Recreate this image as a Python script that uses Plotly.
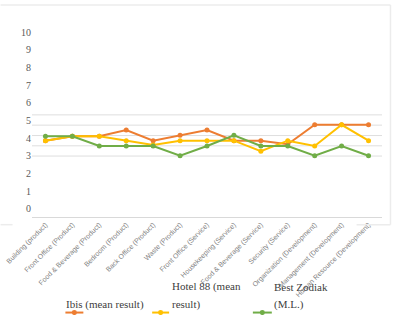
import plotly.graph_objects as go

categories = ["Building (product)", "Front Office (Product)", "Food & Beverage (Product)",
              "Bedroom (Product)", "Back Office (Product)", "Waste (Product)",
              "Front Office (Service)", "Housekeeping (Service)", "Food & Beverage (Service)",
              "Security (Service)", "Organization (Development)", "Management (Development)",
              "Human Resource (Development)"]
ibis = [3.85, 4.1, 4.1, 4.45, 3.85, 4.15, 4.45, 3.85, 3.85, 3.65, 4.75, 4.75, 4.75]
hotel88 = [3.85, 4.1, 4.1, 3.85, 3.6, 3.85, 3.85, 3.85, 3.25, 3.85, 3.55, 4.75, 3.85]
zodiak = [4.1, 4.1, 3.55, 3.55, 3.55, 3.0, 3.55, 4.15, 3.55, 3.55, 3.0, 3.55, 3.0]
y_ticks = list(range(0, 11))
grid_vals = [2.98, 3.56, 4.14, 4.73, 5.31]

series = [("Ibis (mean result)", ibis, "#ED7D31"),
          ("Hotel 88 (mean result)", hotel88, "#FFC000"),
          ("Best Zodiak (M.L.)", zodiak, "#70AD47")]

fig = go.Figure()
for name, vals, col in series:
    fig.add_trace(go.Scatter(x=categories, y=vals, name=name, mode="lines+markers",
                             line=dict(color=col, width=2),
                             marker=dict(color=col, size=5), showlegend=False,
                             cliponaxis=False))

W, H = 397, 315
L, R, T, B = 31.5, 14.5, 20, 97.7
yr = [-0.47, 10.68]

fig.update_layout(
    width=W, height=H,
    margin=dict(l=L, r=R, t=T, b=B, pad=0, autoexpand=False),
    paper_bgcolor="white", plot_bgcolor="white",
    xaxis=dict(type="category", range=[-0.5, 12.5], showgrid=False, automargin=False,
               showline=True, linecolor="#d9d9d9", linewidth=1,
               tickangle=-45, ticks="",
               tickfont=dict(family="Liberation Sans", size=7, color="#7f7f7f")),
    yaxis=dict(range=yr, tickvals=y_ticks, showgrid=False, zeroline=False, automargin=False,
               showline=False, ticks="",
               tickfont=dict(family="Liberation Serif", size=10, color="#595959")),
)

# gridlines (offset from tick labels, as in the reference)
for g in grid_vals:
    fig.add_shape(type="line", xref="paper", yref="y", x0=0, x1=1, y0=g, y1=g,
                  line=dict(color="#dedede", width=1), layer="below")

# chart frame (partial, as in the reference)
frame_col = "#ececec"
def pline(x0, y0, x1, y1):
    fig.add_shape(type="line", xref="paper", yref="paper",
                  x0=(x0 - L) / (W - L - R), x1=(x1 - L) / (W - L - R),
                  y0=(H - B - y0) / (H - T - B), y1=(H - B - y1) / (H - T - B),
                  line=dict(color=frame_col, width=1.5))
pline(0, 5, 391, 5)
pline(391, 5, 391, 225)
pline(0, 225, 12, 225)
pline(357, 225, 391, 225)

# legend text and swatches
def ann(text, x, y, anchor):
    fig.add_annotation(text=text, xref="paper", yref="paper",
                       x=(x - L) / (W - L - R), y=(H - B - y) / (H - T - B),
                       xanchor=anchor, yanchor="middle", showarrow=False,
                       font=dict(family="Liberation Serif", size=11, color="#404040"))
ann("Ibis (mean result)", 105, 305, "center")
ann("Hotel 88 (mean", 170, 287, "left")
ann("result)", 170, 305, "left")
ann("Best Zodiak", 272, 287, "left")
ann("(M.L.)", 272, 305, "left")

for (name, vals, col), (xa, xb) in zip(series, [(65, 83), (152, 169), (253, 272)]):
    fig.add_shape(type="line", xref="paper", yref="paper",
                  x0=(xa - L) / (W - L - R), x1=(xb - L) / (W - L - R),
                  y0=(H - B - 313) / (H - T - B), y1=(H - B - 313) / (H - T - B),
                  line=dict(color=col, width=2))
    xc = (xa + xb) / 2
    fig.add_shape(type="circle", xref="paper", yref="paper",
                  x0=(xc - 2.5 - L) / (W - L - R), x1=(xc + 2.5 - L) / (W - L - R),
                  y0=(H - B - 310.5) / (H - T - B), y1=(H - B - 315.5) / (H - T - B),
                  fillcolor=col, line=dict(color=col, width=0))

fig.write_html("out.html")
